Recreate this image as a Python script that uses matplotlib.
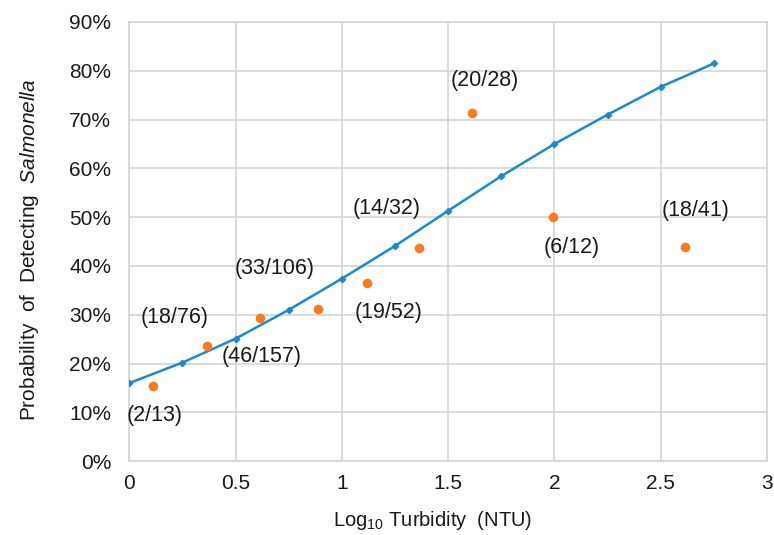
#!/usr/bin/env python3
"""Probability of detecting Salmonella vs log10 turbidity."""

import matplotlib

matplotlib.use("Agg")
import matplotlib.pyplot as plt
from matplotlib.ticker import PercentFormatter

# model curve (log10 NTU, probability %)
fit_x = [0, 0.25, 0.5, 0.75, 1.0, 1.25, 1.5, 1.75, 2.0, 2.25, 2.5, 2.75]
fit_y = [16.0, 20.2, 25.1, 31.0, 37.4, 44.1, 51.3, 58.4, 65.0, 71.0, 76.7, 81.5]

# observed bins
obs_x = [0.11, 0.367, 0.614, 0.887, 1.116, 1.364, 1.613, 1.992, 2.613]
detected = [2, 18, 46, 33, 19, 14, 20, 6, 18]
totals = [13, 76, 157, 106, 52, 32, 28, 12, 41]

# where each count label sits (data coords)
label_x = [0.121, 0.212, 0.624, 0.685, 1.221, 1.211, 1.672, 2.081, 2.664]
label_y = [9.4, 29.5, 21.5, 39.5, 30.5, 51.8, 78.1, 43.8, 51.4]

BLUE = "#1c88d4"
ORANGE = "#f97b1c"
GRID = "#d4d4d4"
TEXT = "#1a1a1a"

plt.rcParams["font.family"] = ["Liberation Sans", "DejaVu Sans"]
plt.rcParams["mathtext.fontset"] = "custom"
plt.rcParams["mathtext.rm"] = "Liberation Sans"
plt.rcParams["mathtext.it"] = "Liberation Sans:italic"


def main() -> None:
    fig = plt.figure(figsize=(7.74, 5.35), dpi=100)
    ax = fig.add_axes([0.167, 0.138, 0.824, 0.821])

    obs_y = [100.0 * d / t for d, t in zip(detected, totals)]

    ax.plot(fit_x, fit_y, color=BLUE, linewidth=1.8, marker="D", markersize=3.2, zorder=3)
    ax.scatter(obs_x, obs_y, s=48, color=ORANGE, zorder=4, linewidths=0)

    for lx, ly, d, t in zip(label_x, label_y, detected, totals):
        ax.text(lx, ly, f"({d}/{t})", ha="center", va="center", fontsize=15.5, color=TEXT)

    ax.set_xlim(0, 3)
    ax.set_ylim(0, 90)
    ax.set_xticks([0, 0.5, 1, 1.5, 2, 2.5, 3])
    ax.set_xticklabels(["0", "0.5", "1", "1.5", "2", "2.5", "3"])
    ax.set_yticks(range(0, 91, 10))
    ax.yaxis.set_major_formatter(PercentFormatter(decimals=0))
    ax.tick_params(axis="both", length=0, labelsize=15, colors=TEXT)
    ax.tick_params(axis="y", pad=13)
    ax.tick_params(axis="x", pad=9)

    ax.grid(True, color=GRID, linewidth=1.2)
    ax.set_axisbelow(True)
    for spine in ax.spines.values():
        spine.set_color(GRID)
        spine.set_linewidth(1.2)

    ax.set_xlabel(r"Log$_{10}$ Turbidity  (NTU)", fontsize=14.5, color=TEXT, labelpad=12)
    ax.set_ylabel(r"Probability  of  Detecting  $\mathit{Salmonella}$", fontsize=15, color=TEXT, labelpad=20)
    ax.xaxis.label.set_x(0.476)
    ax.yaxis.label.set_y(0.481)

    fig.savefig("out.png", dpi=100)


if __name__ == "__main__":
    main()
